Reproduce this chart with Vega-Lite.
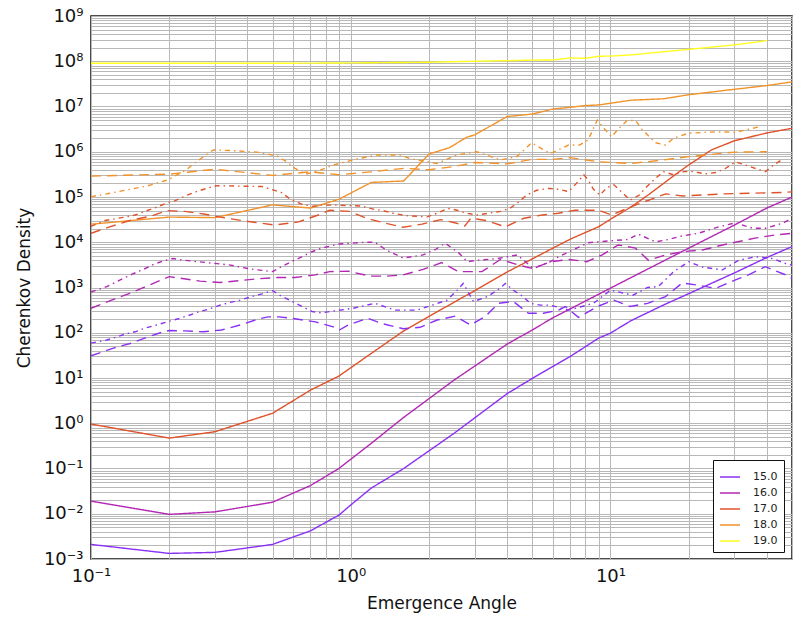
{
  "$schema": "https://vega.github.io/schema/vega-lite/v6.json",
  "autosize": {"type": "none"},
  "padding": {"left": 91, "top": 16, "right": 2, "bottom": 59},
  "width": 701,
  "height": 543,
  "background": "white",
  "config": {
    "font": "DejaVu Sans",
    "view": {"stroke": "#111", "strokeWidth": 1.5},
    "axis": {"labelFont": "DejaVu Sans", "titleFont": "DejaVu Sans", "labelColor": "#111", "titleColor": "#111", "titleFontWeight": "normal", "gridColor": "#b8b8b8", "gridWidth": 1, "gridOpacity": 1, "ticks": false, "domain": false, "labelOverlap": false, "labelBound": false, "labelFlush": false}
  },
  "data": {"values": [
    {"e":"15.0","k":"solid","x":0.1,"y":0.0021},{"e":"15.0","k":"solid","x":0.2,"y":0.00133},{"e":"15.0","k":"solid","x":0.3,"y":0.0014},{"e":"15.0","k":"solid","x":0.5,"y":0.0021},{"e":"15.0","k":"solid","x":0.7,"y":0.0042},{"e":"15.0","k":"solid","x":0.9,"y":0.0093},{"e":"15.0","k":"solid","x":1.0,"y":0.0156},{"e":"15.0","k":"solid","x":1.2,"y":0.037},{"e":"15.0","k":"solid","x":1.6,"y":0.1},{"e":"15.0","k":"solid","x":2.5,"y":0.6},{"e":"15.0","k":"solid","x":4,"y":4.5},{"e":"15.0","k":"solid","x":5,"y":9.8},{"e":"15.0","k":"solid","x":7,"y":30},{"e":"15.0","k":"solid","x":8,"y":49},{"e":"15.0","k":"solid","x":9,"y":76},{"e":"15.0","k":"solid","x":10,"y":98},{"e":"15.0","k":"solid","x":12,"y":185},{"e":"15.0","k":"solid","x":16,"y":410},{"e":"15.0","k":"solid","x":20,"y":730},{"e":"15.0","k":"solid","x":30,"y":2100},{"e":"15.0","k":"solid","x":40,"y":4600},{"e":"15.0","k":"solid","x":50,"y":8000},

    {"e":"16.0","k":"solid","x":0.1,"y":0.019},{"e":"16.0","k":"solid","x":0.2,"y":0.0097},{"e":"16.0","k":"solid","x":0.3,"y":0.011},{"e":"16.0","k":"solid","x":0.5,"y":0.018},{"e":"16.0","k":"solid","x":0.7,"y":0.042},{"e":"16.0","k":"solid","x":0.9,"y":0.1},{"e":"16.0","k":"solid","x":1.2,"y":0.36},{"e":"16.0","k":"solid","x":1.6,"y":1.35},{"e":"16.0","k":"solid","x":2.5,"y":9},{"e":"16.0","k":"solid","x":4,"y":56},{"e":"16.0","k":"solid","x":5,"y":115},{"e":"16.0","k":"solid","x":6,"y":214},{"e":"16.0","k":"solid","x":8,"y":500},{"e":"16.0","k":"solid","x":10,"y":970},{"e":"16.0","k":"solid","x":14,"y":2600},{"e":"16.0","k":"solid","x":20,"y":7400},{"e":"16.0","k":"solid","x":30,"y":24000},{"e":"16.0","k":"solid","x":40,"y":57000},{"e":"16.0","k":"solid","x":50,"y":100000},

    {"e":"17.0","k":"solid","x":0.1,"y":0.96},{"e":"17.0","k":"solid","x":0.2,"y":0.47},{"e":"17.0","k":"solid","x":0.3,"y":0.65},{"e":"17.0","k":"solid","x":0.5,"y":1.66},{"e":"17.0","k":"solid","x":0.7,"y":5.4},{"e":"17.0","k":"solid","x":0.9,"y":11},{"e":"17.0","k":"solid","x":1.2,"y":35},{"e":"17.0","k":"solid","x":1.6,"y":110},{"e":"17.0","k":"solid","x":2.0,"y":230},{"e":"17.0","k":"solid","x":2.8,"y":680},{"e":"17.0","k":"solid","x":4,"y":2200},{"e":"17.0","k":"solid","x":6,"y":7400},{"e":"17.0","k":"solid","x":7,"y":11700},{"e":"17.0","k":"solid","x":9,"y":22000},{"e":"17.0","k":"solid","x":10.4,"y":37000},{"e":"17.0","k":"solid","x":12,"y":60000},{"e":"17.0","k":"solid","x":14,"y":112000},{"e":"17.0","k":"solid","x":18,"y":330000},{"e":"17.0","k":"solid","x":20,"y":510000},{"e":"17.0","k":"solid","x":24.5,"y":1100000},{"e":"17.0","k":"solid","x":30,"y":1750000},{"e":"17.0","k":"solid","x":40,"y":2600000},{"e":"17.0","k":"solid","x":50,"y":3300000},

    {"e":"18.0","k":"solid","x":0.1,"y":25000},{"e":"18.0","k":"solid","x":0.2,"y":36000},{"e":"18.0","k":"solid","x":0.3,"y":35000},{"e":"18.0","k":"solid","x":0.5,"y":67000},{"e":"18.0","k":"solid","x":0.7,"y":57000},{"e":"18.0","k":"solid","x":0.9,"y":89000},{"e":"18.0","k":"solid","x":1.2,"y":210000},{"e":"18.0","k":"solid","x":1.6,"y":226000},{"e":"18.0","k":"solid","x":2.0,"y":890000},{"e":"18.0","k":"solid","x":2.4,"y":1230000},{"e":"18.0","k":"solid","x":2.8,"y":2100000},{"e":"18.0","k":"solid","x":3.0,"y":2350000},{"e":"18.0","k":"solid","x":4,"y":6000000},{"e":"18.0","k":"solid","x":5,"y":6800000},{"e":"18.0","k":"solid","x":6,"y":8800000},{"e":"18.0","k":"solid","x":7,"y":9600000},{"e":"18.0","k":"solid","x":8,"y":10500000},{"e":"18.0","k":"solid","x":9,"y":10800000},{"e":"18.0","k":"solid","x":10,"y":11800000},{"e":"18.0","k":"solid","x":12,"y":13800000},{"e":"18.0","k":"solid","x":16,"y":14800000},{"e":"18.0","k":"solid","x":20,"y":18200000},{"e":"18.0","k":"solid","x":30,"y":24000000},{"e":"18.0","k":"solid","x":40,"y":29000000},{"e":"18.0","k":"solid","x":50,"y":35000000},

    {"e":"19.0","k":"solid","x":0.1,"y":90000000},{"e":"19.0","k":"solid","x":0.5,"y":90000000},{"e":"19.0","k":"solid","x":1.0,"y":92000000},{"e":"19.0","k":"solid","x":2.0,"y":95000000},{"e":"19.0","k":"solid","x":3.0,"y":100000000},{"e":"19.0","k":"solid","x":4,"y":103000000},{"e":"19.0","k":"solid","x":5,"y":106000000},{"e":"19.0","k":"solid","x":6,"y":107000000},{"e":"19.0","k":"solid","x":7,"y":118000000},{"e":"19.0","k":"solid","x":8,"y":116000000},{"e":"19.0","k":"solid","x":9,"y":129000000},{"e":"19.0","k":"solid","x":10,"y":130000000},{"e":"19.0","k":"solid","x":12,"y":138000000},{"e":"19.0","k":"solid","x":16,"y":162000000},{"e":"19.0","k":"solid","x":20,"y":183000000},{"e":"19.0","k":"solid","x":30,"y":230000000},{"e":"19.0","k":"solid","x":40,"y":285000000},

    {"e":"18.0","k":"dashed","x":0.1,"y":290000},{"e":"18.0","k":"dashed","x":0.2,"y":320000},{"e":"18.0","k":"dashed","x":0.3,"y":410000},{"e":"18.0","k":"dashed","x":0.5,"y":300000},{"e":"18.0","k":"dashed","x":0.7,"y":360000},{"e":"18.0","k":"dashed","x":0.9,"y":310000},{"e":"18.0","k":"dashed","x":1.2,"y":360000},{"e":"18.0","k":"dashed","x":1.6,"y":430000},{"e":"18.0","k":"dashed","x":2.0,"y":400000},{"e":"18.0","k":"dashed","x":2.5,"y":470000},{"e":"18.0","k":"dashed","x":3.0,"y":580000},{"e":"18.0","k":"dashed","x":4,"y":540000},{"e":"18.0","k":"dashed","x":5,"y":680000},{"e":"18.0","k":"dashed","x":6,"y":680000},{"e":"18.0","k":"dashed","x":7,"y":740000},{"e":"18.0","k":"dashed","x":9,"y":600000},{"e":"18.0","k":"dashed","x":12,"y":550000},{"e":"18.0","k":"dashed","x":16,"y":660000},{"e":"18.0","k":"dashed","x":20,"y":780000},{"e":"18.0","k":"dashed","x":30,"y":980000},{"e":"18.0","k":"dashed","x":40,"y":1000000},

    {"e":"18.0","k":"dashdot","x":0.1,"y":102000},{"e":"18.0","k":"dashdot","x":0.115,"y":117000},{"e":"18.0","k":"dashdot","x":0.135,"y":141000},{"e":"18.0","k":"dashdot","x":0.164,"y":174000},{"e":"18.0","k":"dashdot","x":0.198,"y":240000},{"e":"18.0","k":"dashdot","x":0.233,"y":400000},{"e":"18.0","k":"dashdot","x":0.252,"y":580000},{"e":"18.0","k":"dashdot","x":0.296,"y":1100000},{"e":"18.0","k":"dashdot","x":0.36,"y":1050000},{"e":"18.0","k":"dashdot","x":0.435,"y":980000},{"e":"18.0","k":"dashdot","x":0.52,"y":810000},{"e":"18.0","k":"dashdot","x":0.57,"y":590000},{"e":"18.0","k":"dashdot","x":0.61,"y":430000},{"e":"18.0","k":"dashdot","x":0.67,"y":320000},{"e":"18.0","k":"dashdot","x":0.73,"y":360000},{"e":"18.0","k":"dashdot","x":0.86,"y":510000},{"e":"18.0","k":"dashdot","x":1.04,"y":680000},{"e":"18.0","k":"dashdot","x":1.26,"y":850000},{"e":"18.0","k":"dashdot","x":1.55,"y":850000},{"e":"18.0","k":"dashdot","x":1.69,"y":710000},{"e":"18.0","k":"dashdot","x":2.15,"y":550000},{"e":"18.0","k":"dashdot","x":2.56,"y":850000},{"e":"18.0","k":"dashdot","x":3.06,"y":1000000},{"e":"18.0","k":"dashdot","x":3.77,"y":660000},{"e":"18.0","k":"dashdot","x":4.36,"y":780000},{"e":"18.0","k":"dashdot","x":4.97,"y":1580000},{"e":"18.0","k":"dashdot","x":5.86,"y":910000},{"e":"18.0","k":"dashdot","x":6.3,"y":1100000},{"e":"18.0","k":"dashdot","x":6.9,"y":1410000},{"e":"18.0","k":"dashdot","x":7.6,"y":1410000},{"e":"18.0","k":"dashdot","x":8.2,"y":1820000},{"e":"18.0","k":"dashdot","x":8.9,"y":5000000},{"e":"18.0","k":"dashdot","x":9.7,"y":2750000},{"e":"18.0","k":"dashdot","x":10.1,"y":2140000},{"e":"18.0","k":"dashdot","x":10.7,"y":3160000},{"e":"18.0","k":"dashdot","x":11.6,"y":4900000},{"e":"18.0","k":"dashdot","x":12.5,"y":4900000},{"e":"18.0","k":"dashdot","x":13.2,"y":3160000},{"e":"18.0","k":"dashdot","x":14.9,"y":1580000},{"e":"18.0","k":"dashdot","x":16.3,"y":1410000},{"e":"18.0","k":"dashdot","x":17.5,"y":2000000},{"e":"18.0","k":"dashdot","x":20,"y":2570000},{"e":"18.0","k":"dashdot","x":25.4,"y":2750000},{"e":"18.0","k":"dashdot","x":30.3,"y":2690000},{"e":"18.0","k":"dashdot","x":37.3,"y":3550000},

    {"e":"17.0","k":"dashed","x":0.1,"y":15800},{"e":"17.0","k":"dashed","x":0.118,"y":21900},{"e":"17.0","k":"dashed","x":0.143,"y":30900},{"e":"17.0","k":"dashed","x":0.171,"y":38000},{"e":"17.0","k":"dashed","x":0.196,"y":50000},{"e":"17.0","k":"dashed","x":0.23,"y":48000},{"e":"17.0","k":"dashed","x":0.275,"y":41700},{"e":"17.0","k":"dashed","x":0.318,"y":35500},{"e":"17.0","k":"dashed","x":0.38,"y":30200},{"e":"17.0","k":"dashed","x":0.51,"y":24000},{"e":"17.0","k":"dashed","x":0.63,"y":28200},{"e":"17.0","k":"dashed","x":0.75,"y":40000},{"e":"17.0","k":"dashed","x":0.83,"y":51000},{"e":"17.0","k":"dashed","x":0.99,"y":48000},{"e":"17.0","k":"dashed","x":1.15,"y":33900},{"e":"17.0","k":"dashed","x":1.36,"y":26300},{"e":"17.0","k":"dashed","x":1.59,"y":21400},{"e":"17.0","k":"dashed","x":1.88,"y":25100},{"e":"17.0","k":"dashed","x":2.22,"y":31600},{"e":"17.0","k":"dashed","x":2.56,"y":26300},{"e":"17.0","k":"dashed","x":2.75,"y":22900},{"e":"17.0","k":"dashed","x":2.9,"y":33900},{"e":"17.0","k":"dashed","x":3.33,"y":30200},{"e":"17.0","k":"dashed","x":3.94,"y":21900},{"e":"17.0","k":"dashed","x":4.64,"y":33900},{"e":"17.0","k":"dashed","x":5.46,"y":40000},{"e":"17.0","k":"dashed","x":6.3,"y":43700},{"e":"17.0","k":"dashed","x":7.3,"y":51000},{"e":"17.0","k":"dashed","x":9,"y":51000},{"e":"17.0","k":"dashed","x":10.1,"y":40000},{"e":"17.0","k":"dashed","x":12.1,"y":62000},{"e":"17.0","k":"dashed","x":16.3,"y":117000},{"e":"17.0","k":"dashed","x":19,"y":105000},{"e":"17.0","k":"dashed","x":27,"y":117000},{"e":"17.0","k":"dashed","x":46,"y":126000},{"e":"17.0","k":"dashed","x":50,"y":130000},

    {"e":"17.0","k":"dashdot","x":0.1,"y":22400},{"e":"17.0","k":"dashdot","x":0.113,"y":30200},{"e":"17.0","k":"dashdot","x":0.133,"y":35500},{"e":"17.0","k":"dashdot","x":0.148,"y":40000},{"e":"17.0","k":"dashdot","x":0.161,"y":48000},{"e":"17.0","k":"dashdot","x":0.176,"y":57500},{"e":"17.0","k":"dashdot","x":0.193,"y":71000},{"e":"17.0","k":"dashdot","x":0.211,"y":83000},{"e":"17.0","k":"dashdot","x":0.23,"y":105000},{"e":"17.0","k":"dashdot","x":0.255,"y":132000},{"e":"17.0","k":"dashdot","x":0.279,"y":155000},{"e":"17.0","k":"dashdot","x":0.305,"y":178000},{"e":"17.0","k":"dashdot","x":0.455,"y":170000},{"e":"17.0","k":"dashdot","x":0.54,"y":126000},{"e":"17.0","k":"dashdot","x":0.58,"y":93000},{"e":"17.0","k":"dashdot","x":0.64,"y":71000},{"e":"17.0","k":"dashdot","x":0.71,"y":62000},{"e":"17.0","k":"dashdot","x":0.77,"y":66000},{"e":"17.0","k":"dashdot","x":0.9,"y":66000},{"e":"17.0","k":"dashdot","x":1.1,"y":63000},{"e":"17.0","k":"dashdot","x":1.22,"y":54000},{"e":"17.0","k":"dashdot","x":1.33,"y":50000},{"e":"17.0","k":"dashdot","x":1.46,"y":43700},{"e":"17.0","k":"dashdot","x":1.62,"y":39000},{"e":"17.0","k":"dashdot","x":1.97,"y":36300},{"e":"17.0","k":"dashdot","x":2.15,"y":43700},{"e":"17.0","k":"dashdot","x":2.36,"y":56000},{"e":"17.0","k":"dashdot","x":2.57,"y":51000},{"e":"17.0","k":"dashdot","x":2.8,"y":43700},{"e":"17.0","k":"dashdot","x":3.07,"y":40000},{"e":"17.0","k":"dashdot","x":3.39,"y":43700},{"e":"17.0","k":"dashdot","x":3.77,"y":48000},{"e":"17.0","k":"dashdot","x":4.1,"y":56000},{"e":"17.0","k":"dashdot","x":4.45,"y":79000},{"e":"17.0","k":"dashdot","x":4.75,"y":110000},{"e":"17.0","k":"dashdot","x":5.2,"y":141000},{"e":"17.0","k":"dashdot","x":5.8,"y":155000},{"e":"17.0","k":"dashdot","x":6.3,"y":148000},{"e":"17.0","k":"dashdot","x":6.9,"y":132000},{"e":"17.0","k":"dashdot","x":7.4,"y":200000},{"e":"17.0","k":"dashdot","x":7.9,"y":309000},{"e":"17.0","k":"dashdot","x":8.2,"y":240000},{"e":"17.0","k":"dashdot","x":8.6,"y":148000},{"e":"17.0","k":"dashdot","x":9.1,"y":110000},{"e":"17.0","k":"dashdot","x":9.7,"y":162000},{"e":"17.0","k":"dashdot","x":10.3,"y":186000},{"e":"17.0","k":"dashdot","x":11.2,"y":120000},{"e":"17.0","k":"dashdot","x":11.9,"y":85000},{"e":"17.0","k":"dashdot","x":12.9,"y":110000},{"e":"17.0","k":"dashdot","x":13.6,"y":155000},{"e":"17.0","k":"dashdot","x":14.9,"y":257000},{"e":"17.0","k":"dashdot","x":16,"y":363000},{"e":"17.0","k":"dashdot","x":17.5,"y":309000},{"e":"17.0","k":"dashdot","x":19.2,"y":363000},{"e":"17.0","k":"dashdot","x":21,"y":363000},{"e":"17.0","k":"dashdot","x":23,"y":324000},{"e":"17.0","k":"dashdot","x":25.4,"y":347000},{"e":"17.0","k":"dashdot","x":27.7,"y":427000},{"e":"17.0","k":"dashdot","x":30.3,"y":600000},{"e":"17.0","k":"dashdot","x":33,"y":510000},{"e":"17.0","k":"dashdot","x":36.2,"y":427000},{"e":"17.0","k":"dashdot","x":39.5,"y":363000},{"e":"17.0","k":"dashdot","x":42.5,"y":510000},{"e":"17.0","k":"dashdot","x":46.4,"y":710000},

    {"e":"16.0","k":"dashed","x":0.1,"y":347},{"e":"16.0","k":"dashed","x":0.12,"y":525},{"e":"16.0","k":"dashed","x":0.141,"y":741},{"e":"16.0","k":"dashed","x":0.164,"y":1070},{"e":"16.0","k":"dashed","x":0.2,"y":1740},{"e":"16.0","k":"dashed","x":0.263,"y":1380},{"e":"16.0","k":"dashed","x":0.314,"y":1290},{"e":"16.0","k":"dashed","x":0.435,"y":1550},{"e":"16.0","k":"dashed","x":0.52,"y":1660},{"e":"16.0","k":"dashed","x":0.61,"y":1660},{"e":"16.0","k":"dashed","x":0.73,"y":1900},{"e":"16.0","k":"dashed","x":0.83,"y":2240},{"e":"16.0","k":"dashed","x":0.98,"y":2290},{"e":"16.0","k":"dashed","x":1.19,"y":1780},{"e":"16.0","k":"dashed","x":1.38,"y":1780},{"e":"16.0","k":"dashed","x":1.59,"y":1900},{"e":"16.0","k":"dashed","x":1.9,"y":2510},{"e":"16.0","k":"dashed","x":2.24,"y":3550},{"e":"16.0","k":"dashed","x":2.6,"y":2240},{"e":"16.0","k":"dashed","x":3.2,"y":2240},{"e":"16.0","k":"dashed","x":3.77,"y":4170},{"e":"16.0","k":"dashed","x":4.4,"y":3160},{"e":"16.0","k":"dashed","x":5.0,"y":2630},{"e":"16.0","k":"dashed","x":5.9,"y":3720},{"e":"16.0","k":"dashed","x":6.9,"y":4170},{"e":"16.0","k":"dashed","x":8.1,"y":3720},{"e":"16.0","k":"dashed","x":9.3,"y":5250},{"e":"16.0","k":"dashed","x":10.7,"y":8710},{"e":"16.0","k":"dashed","x":12.5,"y":7410},{"e":"16.0","k":"dashed","x":14,"y":3980},{"e":"16.0","k":"dashed","x":16.3,"y":5250},{"e":"16.0","k":"dashed","x":18.9,"y":6170},{"e":"16.0","k":"dashed","x":22.6,"y":6760},{"e":"16.0","k":"dashed","x":27,"y":8710},{"e":"16.0","k":"dashed","x":36,"y":12300},{"e":"16.0","k":"dashed","x":43,"y":14500},{"e":"16.0","k":"dashed","x":50,"y":15800},

    {"e":"16.0","k":"dashdot","x":0.1,"y":794},{"e":"16.0","k":"dashdot","x":0.115,"y":1050},{"e":"16.0","k":"dashdot","x":0.133,"y":1580},{"e":"16.0","k":"dashdot","x":0.146,"y":2040},{"e":"16.0","k":"dashdot","x":0.159,"y":2510},{"e":"16.0","k":"dashdot","x":0.174,"y":3240},{"e":"16.0","k":"dashdot","x":0.19,"y":3890},{"e":"16.0","k":"dashdot","x":0.207,"y":4370},{"e":"16.0","k":"dashdot","x":0.23,"y":3980},{"e":"16.0","k":"dashdot","x":0.279,"y":3550},{"e":"16.0","k":"dashdot","x":0.34,"y":3160},{"e":"16.0","k":"dashdot","x":0.41,"y":2570},{"e":"16.0","k":"dashdot","x":0.5,"y":2240},{"e":"16.0","k":"dashdot","x":0.54,"y":2880},{"e":"16.0","k":"dashdot","x":0.59,"y":3720},{"e":"16.0","k":"dashdot","x":0.65,"y":4790},{"e":"16.0","k":"dashdot","x":0.71,"y":6170},{"e":"16.0","k":"dashdot","x":0.77,"y":7410},{"e":"16.0","k":"dashdot","x":0.9,"y":9120},{"e":"16.0","k":"dashdot","x":1.14,"y":10000},{"e":"16.0","k":"dashdot","x":1.24,"y":10000},{"e":"16.0","k":"dashdot","x":1.36,"y":6920},{"e":"16.0","k":"dashdot","x":1.59,"y":4470},{"e":"16.0","k":"dashdot","x":1.9,"y":5250},{"e":"16.0","k":"dashdot","x":2.12,"y":6920},{"e":"16.0","k":"dashdot","x":2.31,"y":9550},{"e":"16.0","k":"dashdot","x":2.6,"y":5890},{"e":"16.0","k":"dashdot","x":2.81,"y":3720},{"e":"16.0","k":"dashdot","x":3.07,"y":3980},{"e":"16.0","k":"dashdot","x":3.67,"y":4370},{"e":"16.0","k":"dashdot","x":4.38,"y":5250},{"e":"16.0","k":"dashdot","x":5.05,"y":2630},{"e":"16.0","k":"dashdot","x":5.87,"y":3720},{"e":"16.0","k":"dashdot","x":6.31,"y":4790},{"e":"16.0","k":"dashdot","x":8.22,"y":9770},{"e":"16.0","k":"dashdot","x":9.82,"y":10700},{"e":"16.0","k":"dashdot","x":11.7,"y":11500},{"e":"16.0","k":"dashdot","x":12.8,"y":15100},{"e":"16.0","k":"dashdot","x":14.9,"y":10200},{"e":"16.0","k":"dashdot","x":16.7,"y":11500},{"e":"16.0","k":"dashdot","x":18.9,"y":13800},{"e":"16.0","k":"dashdot","x":21.8,"y":15800},{"e":"16.0","k":"dashdot","x":26.1,"y":21900},{"e":"16.0","k":"dashdot","x":30.3,"y":26900},{"e":"16.0","k":"dashdot","x":35.3,"y":20400},{"e":"16.0","k":"dashdot","x":39.5,"y":20400},{"e":"16.0","k":"dashdot","x":46,"y":26300},{"e":"16.0","k":"dashdot","x":50,"y":33900},

    {"e":"15.0","k":"dashed","x":0.1,"y":31},{"e":"15.0","k":"dashed","x":0.122,"y":45.7},{"e":"15.0","k":"dashed","x":0.143,"y":58.9},{"e":"15.0","k":"dashed","x":0.166,"y":81.3},{"e":"15.0","k":"dashed","x":0.19,"y":105},{"e":"15.0","k":"dashed","x":0.2,"y":112},{"e":"15.0","k":"dashed","x":0.23,"y":110},{"e":"15.0","k":"dashed","x":0.27,"y":105},{"e":"15.0","k":"dashed","x":0.318,"y":115},{"e":"15.0","k":"dashed","x":0.375,"y":148},{"e":"15.0","k":"dashed","x":0.44,"y":200},{"e":"15.0","k":"dashed","x":0.48,"y":224},{"e":"15.0","k":"dashed","x":0.53,"y":224},{"e":"15.0","k":"dashed","x":0.61,"y":204},{"e":"15.0","k":"dashed","x":0.73,"y":174},{"e":"15.0","k":"dashed","x":0.857,"y":135},{"e":"15.0","k":"dashed","x":0.904,"y":115},{"e":"15.0","k":"dashed","x":0.978,"y":148},{"e":"15.0","k":"dashed","x":1.16,"y":209},{"e":"15.0","k":"dashed","x":1.33,"y":158},{"e":"15.0","k":"dashed","x":1.59,"y":123},{"e":"15.0","k":"dashed","x":1.85,"y":132},{"e":"15.0","k":"dashed","x":2.15,"y":191},{"e":"15.0","k":"dashed","x":2.53,"y":234},{"e":"15.0","k":"dashed","x":2.89,"y":148},{"e":"15.0","k":"dashed","x":3.3,"y":229},{"e":"15.0","k":"dashed","x":3.7,"y":447},{"e":"15.0","k":"dashed","x":4.23,"y":490},{"e":"15.0","k":"dashed","x":4.83,"y":269},{"e":"15.0","k":"dashed","x":5.52,"y":269},{"e":"15.0","k":"dashed","x":6.31,"y":316},{"e":"15.0","k":"dashed","x":6.71,"y":380},{"e":"15.0","k":"dashed","x":7.53,"y":219},{"e":"15.0","k":"dashed","x":8.9,"y":380},{"e":"15.0","k":"dashed","x":10.3,"y":525},{"e":"15.0","k":"dashed","x":11.9,"y":380},{"e":"15.0","k":"dashed","x":13.9,"y":447},{"e":"15.0","k":"dashed","x":16.3,"y":631},{"e":"15.0","k":"dashed","x":18.9,"y":1260},{"e":"15.0","k":"dashed","x":21.8,"y":1120},{"e":"15.0","k":"dashed","x":25.4,"y":955},{"e":"15.0","k":"dashed","x":30.3,"y":1480},{"e":"15.0","k":"dashed","x":34,"y":1910},{"e":"15.0","k":"dashed","x":39.5,"y":2880},{"e":"15.0","k":"dashed","x":47.2,"y":1910},{"e":"15.0","k":"dashed","x":50,"y":1580},

    {"e":"15.0","k":"dashdot","x":0.1,"y":59},{"e":"15.0","k":"dashdot","x":0.115,"y":69},{"e":"15.0","k":"dashdot","x":0.124,"y":79},{"e":"15.0","k":"dashdot","x":0.135,"y":93},{"e":"15.0","k":"dashdot","x":0.148,"y":105},{"e":"15.0","k":"dashdot","x":0.161,"y":126},{"e":"15.0","k":"dashdot","x":0.179,"y":148},{"e":"15.0","k":"dashdot","x":0.196,"y":174},{"e":"15.0","k":"dashdot","x":0.217,"y":204},{"e":"15.0","k":"dashdot","x":0.237,"y":240},{"e":"15.0","k":"dashdot","x":0.259,"y":288},{"e":"15.0","k":"dashdot","x":0.283,"y":331},{"e":"15.0","k":"dashdot","x":0.314,"y":407},{"e":"15.0","k":"dashdot","x":0.343,"y":468},{"e":"15.0","k":"dashdot","x":0.375,"y":525},{"e":"15.0","k":"dashdot","x":0.416,"y":631},{"e":"15.0","k":"dashdot","x":0.455,"y":724},{"e":"15.0","k":"dashdot","x":0.5,"y":851},{"e":"15.0","k":"dashdot","x":0.54,"y":646},{"e":"15.0","k":"dashdot","x":0.59,"y":501},{"e":"15.0","k":"dashdot","x":0.65,"y":380},{"e":"15.0","k":"dashdot","x":0.71,"y":295},{"e":"15.0","k":"dashdot","x":0.77,"y":275},{"e":"15.0","k":"dashdot","x":0.834,"y":295},{"e":"15.0","k":"dashdot","x":1.02,"y":347},{"e":"15.0","k":"dashdot","x":1.24,"y":447},{"e":"15.0","k":"dashdot","x":1.48,"y":316},{"e":"15.0","k":"dashdot","x":1.8,"y":316},{"e":"15.0","k":"dashdot","x":2.35,"y":525},{"e":"15.0","k":"dashdot","x":2.57,"y":871},{"e":"15.0","k":"dashdot","x":2.71,"y":1230},{"e":"15.0","k":"dashdot","x":2.97,"y":490},{"e":"15.0","k":"dashdot","x":3.36,"y":631},{"e":"15.0","k":"dashdot","x":3.67,"y":871},{"e":"15.0","k":"dashdot","x":3.94,"y":1230},{"e":"15.0","k":"dashdot","x":4.23,"y":871},{"e":"15.0","k":"dashdot","x":4.58,"y":646},{"e":"15.0","k":"dashdot","x":4.92,"y":447},{"e":"15.0","k":"dashdot","x":5.37,"y":407},{"e":"15.0","k":"dashdot","x":5.87,"y":407},{"e":"15.0","k":"dashdot","x":6.9,"y":316},{"e":"15.0","k":"dashdot","x":8.6,"y":447},{"e":"15.0","k":"dashdot","x":10,"y":871},{"e":"15.0","k":"dashdot","x":12.2,"y":676},{"e":"15.0","k":"dashdot","x":13.9,"y":1000},{"e":"15.0","k":"dashdot","x":15.3,"y":1050},{"e":"15.0","k":"dashdot","x":17.5,"y":2240},{"e":"15.0","k":"dashdot","x":20,"y":3720},{"e":"15.0","k":"dashdot","x":22.6,"y":2820},{"e":"15.0","k":"dashdot","x":27,"y":2450},{"e":"15.0","k":"dashdot","x":31.1,"y":3980},{"e":"15.0","k":"dashdot","x":36.2,"y":4790},{"e":"15.0","k":"dashdot","x":42.1,"y":4370},{"e":"15.0","k":"dashdot","x":47.2,"y":3390},{"e":"15.0","k":"dashdot","x":50,"y":3160}
  ]},
  "mark": {"type": "line", "strokeWidth": 1.4, "clip": true},
  "encoding": {
    "x": {"field": "x", "type": "quantitative", "scale": {"type": "log", "domain": [0.1, 50], "nice": false},
      "axis": {"title": "Emergence Angle", "titleFontSize": 17, "titlePadding": 10, "labelFontSize": 18, "labelPadding": 8, "grid": true,
        "values": [0.1,0.2,0.3,0.4,0.5,0.6,0.7,0.8,0.9,1,2,3,4,5,6,7,8,9,10,20,30,40,50],
        "labelExpr": "abs(log(datum.value)/LN10 - round(log(datum.value)/LN10)) < 0.01 ? ['10⁻¹','10⁰','10¹'][round(log(datum.value)/LN10)+1] : ''"}},
    "y": {"field": "y", "type": "quantitative", "scale": {"type": "log", "domain": [0.001, 1000000000], "nice": false},
      "axis": {"title": "Cherenkov Density", "titleFontSize": 17, "titlePadding": 10, "labelFontSize": 18, "labelPadding": 8, "grid": true,
        "values": [1e-3,2e-3,3e-3,4e-3,5e-3,6e-3,7e-3,8e-3,9e-3,1e-2,2e-2,3e-2,4e-2,5e-2,6e-2,7e-2,8e-2,9e-2,1e-1,2e-1,3e-1,4e-1,5e-1,6e-1,7e-1,8e-1,9e-1,1,2,3,4,5,6,7,8,9,10,20,30,40,50,60,70,80,90,100,200,300,400,500,600,700,800,900,1e3,2e3,3e3,4e3,5e3,6e3,7e3,8e3,9e3,1e4,2e4,3e4,4e4,5e4,6e4,7e4,8e4,9e4,1e5,2e5,3e5,4e5,5e5,6e5,7e5,8e5,9e5,1e6,2e6,3e6,4e6,5e6,6e6,7e6,8e6,9e6,1e7,2e7,3e7,4e7,5e7,6e7,7e7,8e7,9e7,1e8,2e8,3e8,4e8,5e8,6e8,7e8,8e8,9e8,1e9],
        "labelExpr": "abs(log(datum.value)/LN10 - round(log(datum.value)/LN10)) < 0.01 ? ['10⁻³','10⁻²','10⁻¹','10⁰','10¹','10²','10³','10⁴','10⁵','10⁶','10⁷','10⁸','10⁹'][round(log(datum.value)/LN10)+3] : ''"}},
    "color": {"field": "e", "type": "nominal",
      "scale": {"domain": ["15.0","16.0","17.0","18.0","19.0"], "range": ["#8a30f5","#b228b4","#e0522a","#f2922a","#ffff22"]},
      "legend": {"title": null, "orient": "none", "legendX": 622, "legendY": 444, "padding": 6, "strokeColor": "#111", "fillColor": "white", "symbolType": "stroke", "symbolSize": 400, "symbolStrokeWidth": 1.5, "labelFontSize": 11, "labelFont": "DejaVu Sans", "labelColor": "#222", "rowPadding": 0, "labelOffset": 12, "cornerRadius": 0}},
    "strokeDash": {"field": "k", "type": "nominal",
      "scale": {"domain": ["solid","dashed","dashdot"], "range": [[1,0],[10,6],[5,4,1.5,4]]},
      "legend": null}
  }
}
